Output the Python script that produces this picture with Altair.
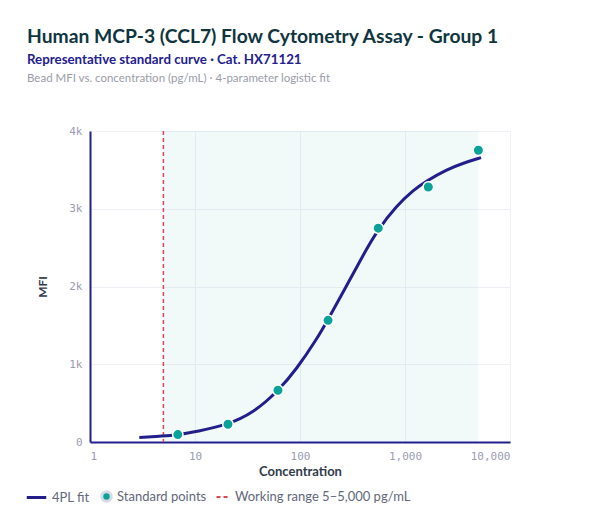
import altair as alt
import pandas as pd

# ---- data ----
std_conc = [6.86, 20.6, 61.7, 185, 556, 1667, 5000]
std_mfi = [95, 228, 665, 1565, 2750, 3280, 3752]

fit_conc = [2.95, 5.0, 6.84, 10.4, 20.5, 35.9, 61.4, 93, 144, 184, 278, 401,
            550, 834, 1199, 1610, 2495, 3590, 5300]
fit_mfi = [57, 76, 93, 135, 222, 375, 650, 940, 1320, 1570, 2010, 2410,
           2730, 3040, 3240, 3360, 3504, 3588, 3658]

range_low = 5
range_high = 5000

x_ticks = [1, 10, 100, 1000, 10000]
y_ticks = [0, 1000, 2000, 3000, 4000]

fit_label = "4PL fit"
pts_label = "Standard points"
rng_label = "Working range 5–5,000 pg/mL"

title_text = "Human MCP-3 (CCL7) Flow Cytometry Assay - Group 1"
subtitle_text = "Representative standard curve · Cat. HX71121"
note_text = "Bead MFI vs. concentration (pg/mL) · 4-parameter logistic fit"

# ---- styles ----
NAVY = "#221f8c"
TEAL = "#0aa39a"
RED = "#e0474f"
FONT = "Lato"
MONO = "DejaVu Sans Mono"
LEG_LABEL = "#62677a"

fit_df = pd.DataFrame({"conc": fit_conc, "mfi": fit_mfi, "series": fit_label})
pts_df = pd.DataFrame({"conc": std_conc, "mfi": std_mfi, "series": pts_label})
rng_df = pd.DataFrame({"lo": [range_low], "hi": [range_high], "series": [rng_label]})
txt_df = pd.DataFrame({"title": [title_text], "sub": [subtitle_text], "note": [note_text]})

xscale = alt.Scale(type="log", domain=[1, 10000], nice=False)
yscale = alt.Scale(domain=[0, 4000], nice=False)

xaxis = alt.Axis(values=x_ticks, format=",", labelFont=MONO, labelFontSize=11,
                 labelColor="#9a9cb2", domainColor=NAVY, domainWidth=2,
                 ticks=False, gridColor="#eef0f6", labelPadding=8,
                 title="Concentration", titleFont=FONT, titleFontSize=13,
                 titleFontWeight="bold", titleColor="#2f3b4a", titlePadding=4)
yaxis = alt.Axis(values=y_ticks,
                 labelExpr="datum.value == 0 ? '0' : format(datum.value / 1000, 'd') + 'k'",
                 labelFont=MONO, labelFontSize=11,
                 labelColor="#9a9cb2", domainColor=NAVY, domainWidth=2,
                 ticks=False, gridColor="#eef0f6", labelPadding=8,
                 title="MFI", titleFont=FONT, titleFontSize=12,
                 titleFontWeight="bold", titleColor="#2f3b4a", titlePadding=19)

band = alt.Chart(rng_df).mark_rect(color=TEAL, opacity=0.06).encode(
    x=alt.X("lo:Q", scale=xscale, axis=xaxis),
    x2="hi:Q",
)

rule = alt.Chart(rng_df).mark_rule(stroke=RED, strokeWidth=1.5, opacity=1).encode(
    x=alt.X("lo:Q", scale=xscale),
    strokeDash=alt.StrokeDash(
        "series:N",
        scale=alt.Scale(domain=[rng_label], range=[[4, 3]]),
        legend=alt.Legend(orient="none", legendX=125, legendY=358, title=None,
                          symbolType="stroke", symbolStrokeColor=RED,
                          symbolDash=[5, 3], symbolStrokeWidth=2.2, symbolSize=169,
                          labelLimit=400, labelFont=FONT, labelFontSize=13,
                          labelColor=LEG_LABEL)),
)

line = alt.Chart(fit_df).mark_line(strokeWidth=3, interpolate="basis").encode(
    x=alt.X("conc:Q", scale=xscale),
    y=alt.Y("mfi:Q", scale=yscale, axis=yaxis),
    stroke=alt.Stroke(
        "series:N",
        scale=alt.Scale(domain=[fit_label], range=[NAVY]),
        legend=alt.Legend(orient="none", legendX=-65, legendY=355, title=None,
                          symbolType="stroke", symbolStrokeWidth=3, symbolSize=380,
                          labelFont=FONT, labelFontSize=13, labelColor=LEG_LABEL)),
)

pts = alt.Chart(pts_df).mark_circle(size=110, opacity=1, stroke="white",
                                    strokeWidth=1.5).encode(
    x=alt.X("conc:Q", scale=xscale),
    y=alt.Y("mfi:Q", scale=yscale),
    fill=alt.Fill(
        "series:N",
        scale=alt.Scale(domain=[pts_label], range=[TEAL]),
        legend=alt.Legend(orient="none", legendX=10, legendY=359, title=None,
                          symbolType="circle", symbolSize=90,
                          symbolStrokeColor="#d8dbe6", symbolStrokeWidth=3,
                          symbolOpacity=1, labelFont=FONT, labelFontSize=13,
                          labelColor=LEG_LABEL)),
)

title = alt.Chart(txt_df).mark_text(align="left", baseline="alphabetic", font=FONT,
                                    fontSize=19.3, fontWeight="bold",
                                    color="#0f3640").encode(
    x=alt.value(-63), y=alt.value(-88), text="title:N")
subtitle = alt.Chart(txt_df).mark_text(align="left", baseline="alphabetic", font=FONT,
                                       fontSize=13.3, fontWeight="bold",
                                       color="#23208f").encode(
    x=alt.value(-63), y=alt.value(-67), text="sub:N")
note = alt.Chart(txt_df).mark_text(align="left", baseline="alphabetic", font=FONT,
                                   fontSize=11.5, color="#9a9ca8").encode(
    x=alt.value(-63), y=alt.value(-49), text="note:N")

chart = alt.layer(band, rule, line, pts, title, subtitle, note).properties(
    width=420, height=311,
    autosize=alt.AutoSizeParams(type="none"),
    padding={"left": 82, "top": 123, "right": 82, "bottom": 75},
    background="white",
).configure_view(stroke=None)

chart.save("out.html", embed_options={"renderer": "svg", "actions": False})
